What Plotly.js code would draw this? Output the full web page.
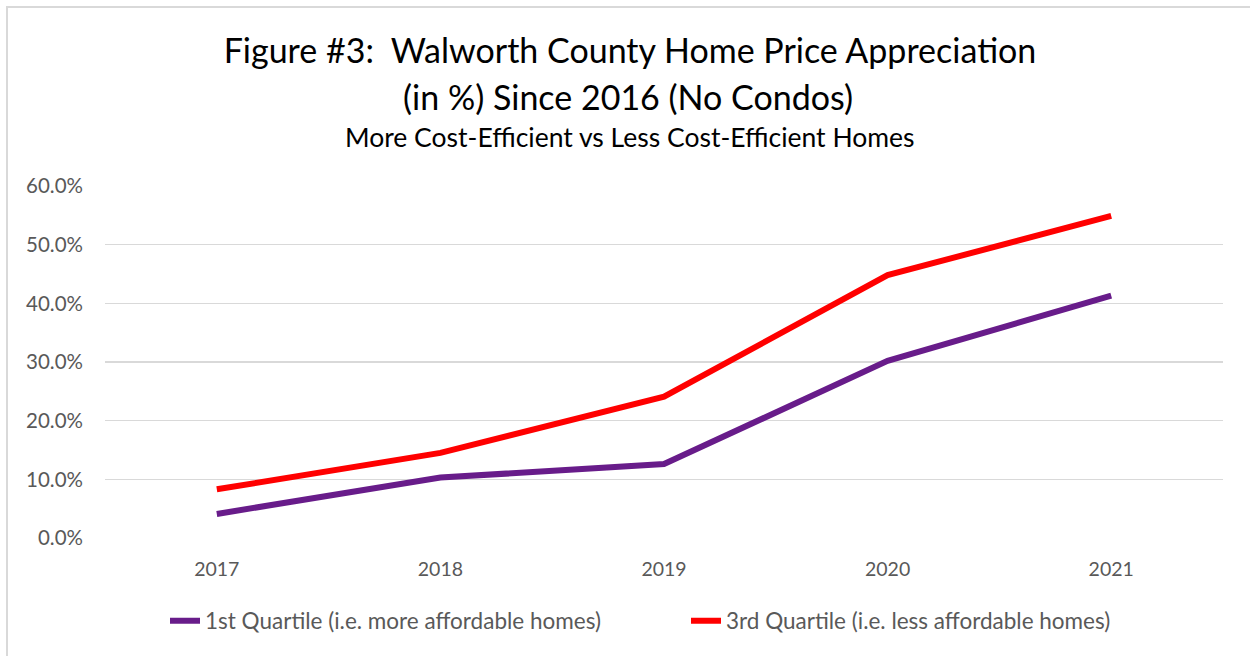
<!DOCTYPE html>
<html>
<head>
<meta charset="utf-8">
<script src="https://cdn.plot.ly/plotly-3.0.1.min.js"></script>
<style>
  html, body { margin: 0; padding: 0; background: #ffffff; }
  #chart { width: 1250px; height: 656px; }
  #frame { position: absolute; left: 6px; top: 6px; width: 1400px; height: 800px;
           border-left: 2px solid #d9d9d9; border-top: 2px solid #d9d9d9; pointer-events: none; }
</style>
</head>
<body>
<div id="chart"></div>
<div id="frame"></div>
<script>
const years = ['2017', '2018', '2019', '2020', '2021'];
const q1Values = [4.1, 10.3, 12.6, 30.2, 41.3];
const q3Values = [8.3, 14.5, 24.1, 44.8, 54.9];
const seriesNames = ['1st Quartile (i.e. more affordable homes)', '3rd Quartile (i.e. less affordable homes)'];
const yTicks = [0, 10, 20, 30, 40, 50, 60];
const yTickLabels = ['0.0%', '10.0%', '20.0%', '30.0%', '40.0%', '50.0%', '60.0%'];
const titleLine1 = 'Figure #3:  Walworth County Home Price Appreciation';
const titleLine2 = '(in %) Since 2016 (No Condos)';
const subtitle = 'More Cost-Efficient vs Less Cost-Efficient Homes';

const FONT = 'Lato, "Open Sans", sans-serif';
const GRAY = '#595959';
const PT = 352; // plot height in px
function py(px) { return 1 + (186 - px) / PT; }

const traces = [
  { x: years, y: q1Values, name: seriesNames[0], type: 'scatter', mode: 'lines',
    line: { color: '#681c8a', width: 6 } },
  { x: years, y: q3Values, name: seriesNames[1], type: 'scatter', mode: 'lines',
    line: { color: '#ff0000', width: 6 } }
];

const layout = {
  width: 1250, height: 656,
  paper_bgcolor: 'rgba(0,0,0,0)', plot_bgcolor: '#ffffff',
  margin: { l: 105, r: 27, t: 186, b: 118 },
  font: { family: FONT, color: GRAY },
  title: {
    text: titleLine1,
    font: { family: FONT, size: 34, color: '#000000' },
    x: 630 / 1250, xref: 'container', xanchor: 'center',
    y: 1 - 51 / 656, yref: 'container', yanchor: 'middle',
    automargin: false
  },
  annotations: [
    { text: titleLine2, xref: 'paper', yref: 'paper', x: (628 - 105) / 1118, y: py(96),
      xanchor: 'center', yanchor: 'middle', showarrow: false,
      font: { family: FONT, size: 34, color: '#000000' } },
    { text: subtitle, xref: 'paper', yref: 'paper', x: (630 - 105) / 1118, y: py(137),
      xanchor: 'center', yanchor: 'middle', showarrow: false,
      font: { family: FONT, size: 26.5, color: '#000000' } }
  ],
  xaxis: {
    type: 'category', range: [-0.5, 4.5], automargin: false,
    showgrid: false, zeroline: false,
    showline: false, ticks: '',
    ticklabelstandoff: 17,
    tickfont: { family: FONT, size: 19.5, color: GRAY }
  },
  yaxis: {
    range: [0, 60], tickvals: yTicks, ticktext: yTickLabels, automargin: false,
    showgrid: true, gridcolor: '#d9d9d9', gridwidth: 1.5,
    zeroline: false, showline: false, ticks: '',
    ticklabelstandoff: 21,
    tickfont: { family: FONT, size: 20.5, color: GRAY }
  },
  showlegend: true,
  legend: {
    orientation: 'h', x: (165 - 105) / 1118, xanchor: 'left', y: (538 - 621) / PT, yanchor: 'middle',
    font: { family: FONT, size: 22.5, color: GRAY },
    entrywidth: 476, entrywidthmode: 'pixels',
    traceorder: 'normal', bgcolor: 'rgba(0,0,0,0)'
  }
};

Plotly.newPlot('chart', traces, layout, { displayModeBar: false, staticPlot: true });
</script>
</body>
</html>
